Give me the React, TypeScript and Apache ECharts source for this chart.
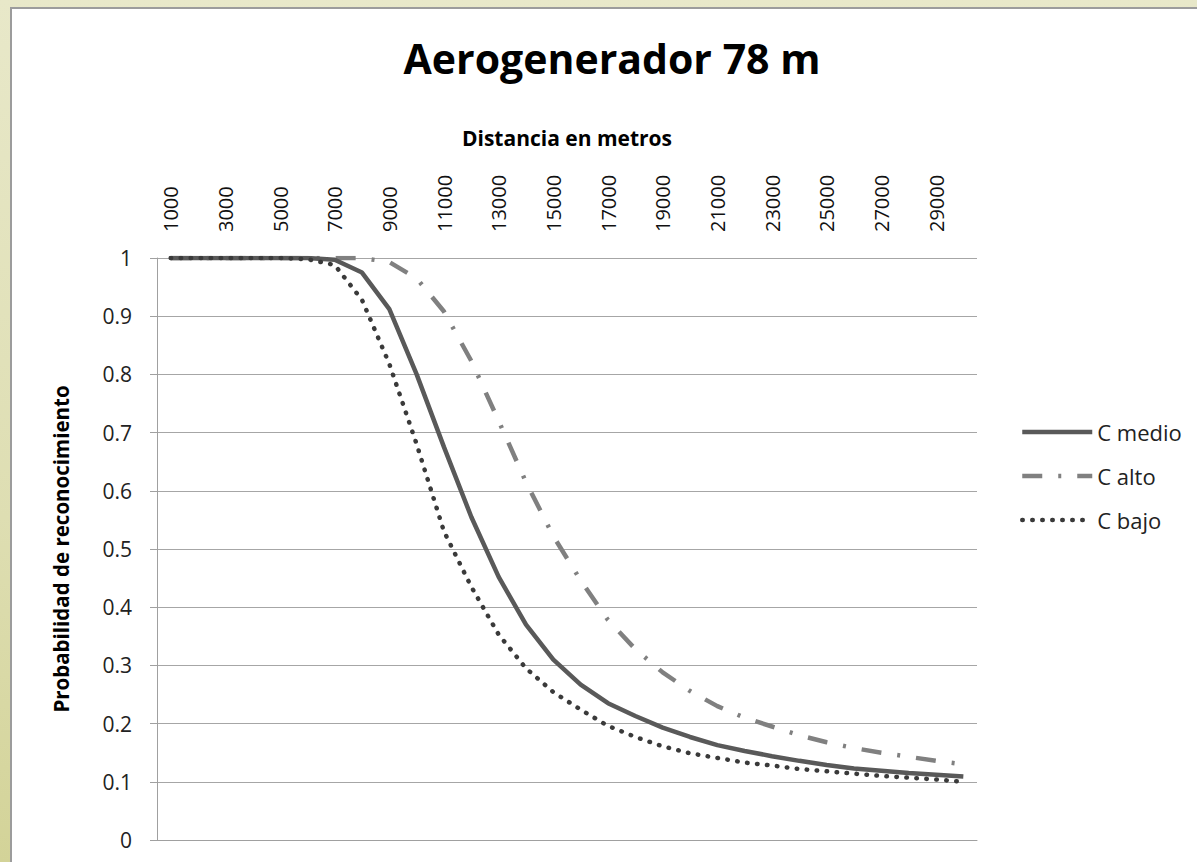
import React, { useEffect, useRef } from "react";
import * as echarts from "echarts";

const titleText = "Aerogenerador 78 m";
const xAxisName = "Distancia en metros";
const yAxisName = "Probabilidad de reconocimiento";

const categories = [
  "1000", "2000", "3000", "4000", "5000", "6000", "7000", "8000", "9000", "10000",
  "11000", "12000", "13000", "14000", "15000", "16000", "17000", "18000", "19000", "20000",
  "21000", "22000", "23000", "24000", "25000", "26000", "27000", "28000", "29000", "30000",
];

const cMedio = [1, 1, 1, 1, 1, 1, 0.997, 0.975, 0.912, 0.8, 0.675, 0.555, 0.452, 0.37, 0.31, 0.267, 0.235, 0.213, 0.193, 0.177, 0.163, 0.153, 0.144, 0.136, 0.129, 0.123, 0.119, 0.115, 0.112, 0.109];
const cAlto = [1, 1, 1, 1, 1, 1, 1, 1, 0.993, 0.965, 0.908, 0.823, 0.72, 0.615, 0.522, 0.446, 0.378, 0.328, 0.288, 0.256, 0.23, 0.21, 0.195, 0.18, 0.168, 0.158, 0.15, 0.143, 0.136, 0.13];
const cBajo = [1, 1, 1, 1, 1, 0.998, 0.988, 0.928, 0.818, 0.68, 0.53, 0.435, 0.353, 0.295, 0.254, 0.224, 0.196, 0.177, 0.161, 0.149, 0.141, 0.133, 0.128, 0.122, 0.118, 0.114, 0.11, 0.107, 0.104, 0.1];

const seriesNames = ["C medio", "C alto", "C bajo"];

const FONT = "'Open Sans', 'Liberation Sans', sans-serif";

export default function App() {
  const ref = useRef<HTMLDivElement>(null);

  useEffect(() => {
    if (!ref.current) return;
    const chart = echarts.init(ref.current, undefined, { renderer: "svg" });
    chart.setOption({
      animation: false,
      backgroundColor: "transparent",
      title: {
        text: titleText,
        left: 607,
        textAlign: "center",
        top: 32,
        textStyle: { fontFamily: FONT, fontSize: 41, fontWeight: "bold", color: "#000" },
      },
      legend: {
        orient: "vertical",
        left: 1015,
        top: 416,
        itemWidth: 70,
        itemHeight: 14,
        itemGap: 22,
        itemStyle: { opacity: 0 },
        lineStyle: { width: 4.5 },
        textStyle: { fontFamily: FONT, fontSize: 22, color: "#222" },
        data: seriesNames,
      },
      grid: { left: 157, right: 220, top: 258, bottom: 22, containLabel: false },
      xAxis: {
        type: "category",
        position: "top",
        data: categories,
        boundaryGap: true,
        name: xAxisName,
        nameLocation: "middle",
        nameGap: 110,
        nameTextStyle: { fontFamily: FONT, fontSize: 21, fontWeight: "bold", color: "#000" },
        axisLine: { show: true, lineStyle: { color: "#a0a0a0", width: 1 } },
        axisTick: { show: false },
        axisLabel: {
          interval: 1,
          rotate: 90,
          margin: 26,
          fontFamily: FONT,
          fontSize: 20,
          color: "#111",
        },
        splitLine: { show: false },
      },
      yAxis: {
        type: "value",
        min: 0,
        max: 1,
        interval: 0.1,
        name: yAxisName,
        nameLocation: "middle",
        nameGap: 86,
        nameTextStyle: { fontFamily: FONT, fontSize: 20.5, fontWeight: "bold", color: "#000" },
        axisLine: { show: true, lineStyle: { color: "#a0a0a0", width: 1 } },
        axisTick: { show: true, inside: false, length: 7, lineStyle: { color: "#a0a0a0" } },
        axisLabel: {
          margin: 25,
          fontFamily: FONT,
          fontSize: 21,
          color: "#222",
          formatter: (v: number) => String(Math.round(v * 10) / 10),
        },
        splitLine: { show: true, lineStyle: { color: "#a6a6a6", width: 1 } },
      },
      series: [
        {
          name: seriesNames[0],
          type: "line",
          data: cMedio,
          symbol: "none",
          smooth: false,
          z: 4,
          itemStyle: { color: "#595959" },
          lineStyle: { color: "#595959", width: 4.5, type: "solid" },
        },
        {
          name: seriesNames[1],
          type: "line",
          data: cAlto,
          symbol: "none",
          smooth: false,
          z: 3,
          itemStyle: { color: "#808080" },
          lineStyle: { color: "#808080", width: 4.5, type: [20, 16, 3, 16], cap: "butt" },
        },
        {
          name: seriesNames[2],
          type: "line",
          data: cBajo,
          symbol: "none",
          smooth: false,
          z: 5,
          itemStyle: { color: "#3a3a3a" },
          lineStyle: { color: "#3a3a3a", width: 4.5, type: [0.5, 9.5], cap: "round" },
        },
      ],
    });
    return () => chart.dispose();
  }, []);

  return (
    <div
      style={{
        position: "fixed",
        left: 0,
        top: 0,
        width: 1197,
        height: 862,
        background: "linear-gradient(to bottom, #e8e8c9 0%, #dedeb2 60%, #d3d398 100%)",
        overflow: "hidden",
      }}
    >
      <div
        style={{
          position: "absolute",
          left: 10,
          top: 7,
          width: 1200,
          height: 870,
          background: "#ffffff",
          borderLeft: "2px solid #9c9c9c",
          borderTop: "2px solid #9c9c9c",
          boxSizing: "border-box",
        }}
      />
      <div ref={ref} style={{ position: "absolute", left: 0, top: 0, width: 1197, height: 862 }} />
    </div>
  );
}
